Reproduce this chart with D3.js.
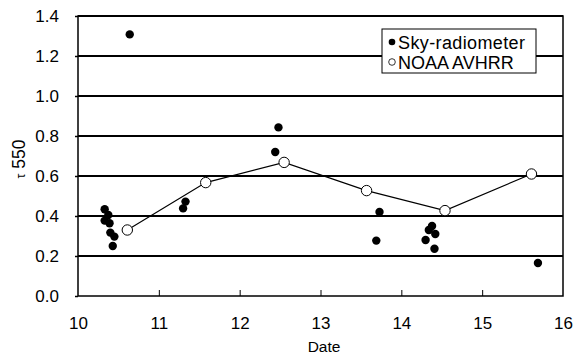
<!DOCTYPE html>
<html><head><meta charset="utf-8">
<script src="https://cdn.jsdelivr.net/npm/d3@7"></script>
<style>body{margin:0;background:#fff}svg{display:block}text{font-family:"Liberation Sans",Arial,sans-serif}</style>
</head><body>
<svg id="c" width="584" height="354"></svg>
<script>
const skyDate = [10.33,10.375,10.33,10.39,10.40,10.45,10.43,10.64,11.33,11.30,12.48,12.44,13.73,13.69,14.38,14.34,14.42,14.30,14.41,15.69];
const skyTau  = [0.434,0.405,0.377,0.364,0.317,0.297,0.25,1.308,0.472,0.438,0.843,0.72,0.42,0.277,0.35,0.33,0.31,0.28,0.236,0.165];
const avhrrDate = [10.61,11.58,12.55,13.57,14.54,15.61];
const avhrrTau  = [0.33,0.567,0.668,0.527,0.427,0.61];
const xTicks = [10,11,12,13,14,15,16];
const yTicks = [0,0.2,0.4,0.6,0.8,1.0,1.2,1.4];

const svg = d3.select("#c");
const L=78, R=563, T=16, B=296;
const x = d3.scaleLinear().domain([10,16]).range([L,R]);
const y = d3.scaleLinear().domain([0,1.4]).range([B,T]);

// gridlines
svg.append("g").selectAll("line").data(yTicks.filter(d=>d>0)).join("line")
  .attr("x1",L).attr("x2",R).attr("y1",d=>y(d)).attr("y2",d=>y(d))
  .attr("stroke","#000").attr("stroke-width",2);

// frame
svg.append("rect").attr("x",L).attr("y",T).attr("width",R-L).attr("height",B-T)
  .attr("fill","none").attr("stroke","#000").attr("stroke-width",1.5);

// y axis
const ya = svg.append("g").attr("transform",`translate(${L},0)`)
  .call(d3.axisLeft(y).tickValues(yTicks).tickFormat(d3.format(".1f")).tickSize(3).tickPadding(16));
ya.select(".domain").remove();
ya.selectAll("line").attr("stroke","#000").attr("stroke-width",1.5);
ya.selectAll("text").attr("font-size",17).attr("fill","#000").attr("font-family","Liberation Sans, Arial, sans-serif");

// x axis
const xa = svg.append("g").attr("transform",`translate(0,${B})`)
  .call(d3.axisBottom(x).tickValues(xTicks).tickFormat(d3.format("d")).tickSize(-6).tickPadding(21));
xa.select(".domain").remove();
xa.selectAll("line").attr("stroke","#000").attr("stroke-width",1).filter(d=>d===10||d===16).remove();
xa.selectAll("text").attr("font-size",17).attr("fill","#000").attr("font-family","Liberation Sans, Arial, sans-serif");

// axis titles
svg.append("text").attr("x",324).attr("y",352).attr("text-anchor","middle")
  .attr("font-size",15.5).text("Date");
const yt = svg.append("text").attr("transform",`translate(25,${(T+B)/2+3}) rotate(-90)`).attr("text-anchor","middle")
  .attr("font-size",17.5);
yt.append("tspan").attr("font-size",12).text("τ");
yt.append("tspan").text(" 550");

// AVHRR line
const av = avhrrDate.map((d,i)=>[d,avhrrTau[i]]);
svg.append("path").datum(av).attr("d",d3.line().x(d=>x(d[0])).y(d=>y(d[1])))
  .attr("fill","none").attr("stroke","#000").attr("stroke-width",1.2);

// sky points
svg.append("g").selectAll("circle").data(skyDate.map((d,i)=>[d,skyTau[i]])).join("circle")
  .attr("cx",d=>x(d[0])).attr("cy",d=>y(d[1])).attr("r",4.2).attr("fill","#000");

// avhrr points
svg.append("g").selectAll("circle").data(av).join("circle")
  .attr("cx",d=>x(d[0])).attr("cy",d=>y(d[1])).attr("r",5.2).attr("fill","#fff").attr("stroke","#000").attr("stroke-width",1);

// legend
const lg = svg.append("g");
lg.append("rect").attr("x",382).attr("y",29).attr("width",154).attr("height",44)
  .attr("fill","#fff").attr("stroke","#000").attr("stroke-width",1);
lg.append("circle").attr("cx",392).attr("cy",42).attr("r",3.3).attr("fill","#000");
lg.append("circle").attr("cx",392).attr("cy",62).attr("r",3.3).attr("fill","#fff").attr("stroke","#000").attr("stroke-width",0.8);
lg.append("text").attr("x",398).attr("y",49).attr("font-size",18).attr("textLength",127).text("Sky-radiometer");
lg.append("text").attr("x",398).attr("y",69).attr("font-size",18).text("NOAA AVHRR");
</script>
</body></html>
